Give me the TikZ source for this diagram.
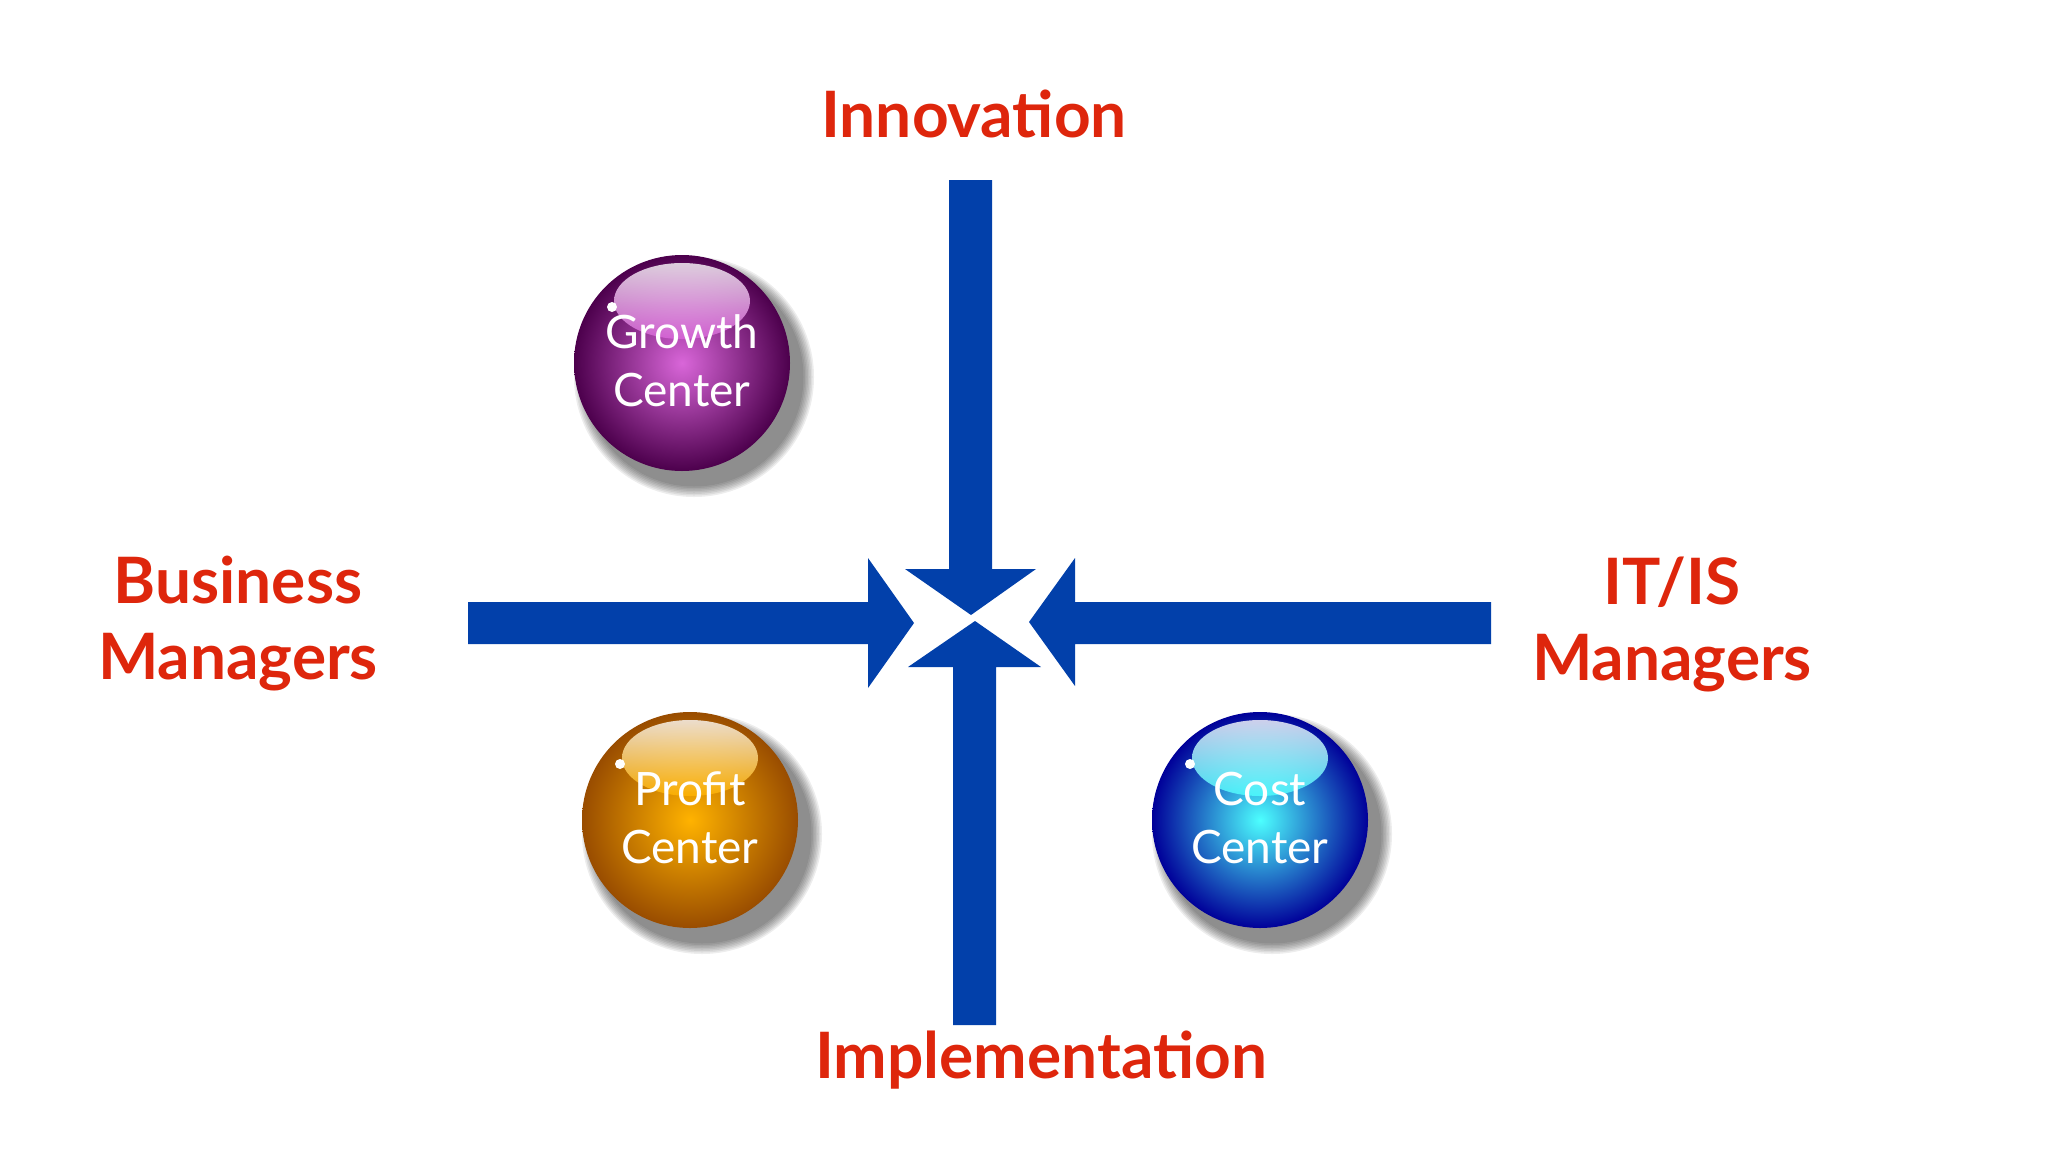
\documentclass[tikz,border=0pt]{standalone}
\usepackage{fontspec}
\setmainfont{Lato}
\definecolor{lbl}{RGB}{222,38,12}
\definecolor{arr}{RGB}{2,64,170}
\begin{document}
\begin{tikzpicture}[x=1pt,y=-1pt,
  lab/.style={text=lbl,font=\fontsize{64}{76}\selectfont\bfseries,align=center},
  btxt/.style={text=white,font=\fontsize{46}{58}\selectfont,align=center},
  arrow/.style={fill=arr}]
\useasboundingbox (0,0) rectangle (2048,1152);
% arrows
\fill[arr] (949,180) -- (992,180) -- (992,569) -- (1036,569) -- (971,615) -- (905,569) -- (949,569) -- cycle;
\fill[arr] (953,1025) -- (996,1025) -- (996,667) -- (1041,667) -- (975,621) -- (908,667) -- (953,667) -- cycle;
\fill[arr] (468,602) -- (868,602) -- (868,558) -- (914,623) -- (868,688) -- (868,644) -- (468,644) -- cycle;
\fill[arr] (1491,602) -- (1075,602) -- (1075,558) -- (1029,622) -- (1075,686) -- (1075,644) -- (1491,644) -- cycle;
% balls
\foreach \nm/\cx/\cy/\ca/\cb/\t in {g/682/363/{violet!50!magenta!60}/{violet!60!black}/{Growth\\Center},
  p/690/820/{orange!60!yellow}/{orange!60!black}/{Profit\\Center},
  c/1260/820/{cyan!70}/{blue!60!black}/{Cost\\Center}}{
  \foreach \k in {1,...,8}{\fill[black,opacity=0.07] (\cx+12,\cy+14) circle ({108+\k*1.5});}
  \shade[ball color=\ca, inner color=\ca, outer color=\cb] (\cx,\cy) circle (108);
  \shade[top color=white, bottom color=\ca, opacity=0.8] (\cx,\cy-62) ellipse (68 and 38);
  \fill[white] (\cx-70,\cy-56) circle (5);
  \node[btxt] (\nm) at (\cx,\cy-2) {\t};
}
% labels
\node[lab] (inn) at (974,114) {Innovation};
\node[lab] (imp) at (1041,1060) {Implementation};
\node[lab] (bm) at (238,624) {Business\\Managers};
\node[lab] (it) at (1672,624) {IT/IS\\Managers};
\end{tikzpicture}
\end{document}
